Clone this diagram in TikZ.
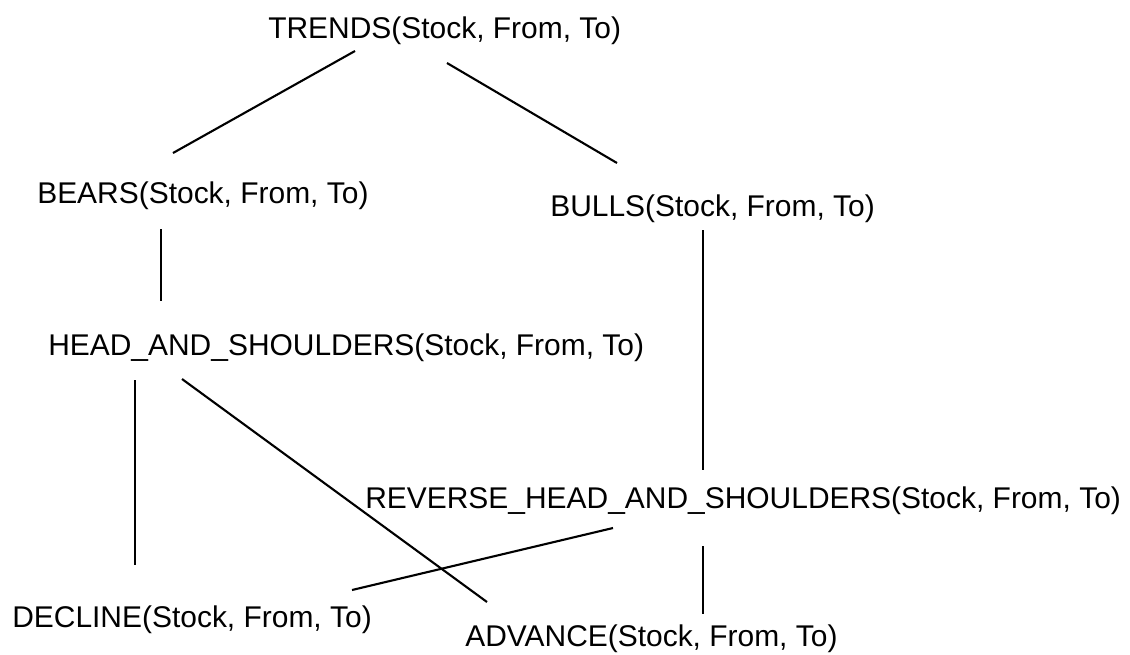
\documentclass[tikz,border=0pt]{standalone}
\usepackage{fontspec}
\setmainfont{Liberation Sans}
\usetikzlibrary{calc}

\begin{document}
\begin{tikzpicture}[x=0.025cm, y=-0.025cm,
		pred/.style={anchor=base west, inner sep=0pt, font=\fontsize{21.3}{24}\selectfont},
		link/.style={line width=1.5pt}]
	\useasboundingbox (0, 0) rectangle (1130, 654);

	% predicates
	\node[pred] at (268, 38) (trends) {TRENDS(Stock, From, To)};
	\node[pred] at (37, 203) (bears) {BEARS(Stock, From, To)};
	\node[pred] at (550, 216) (bulls) {BULLS(Stock, From, To)};
	\node[pred] at (48, 355) (head) {HEAD\_AND\_SHOULDERS(Stock, From, To)};
	\node[pred] at (365, 508) (revhead) {REVERSE\_HEAD\_AND\_SHOULDERS(Stock, From, To)};
	\node[pred] at (12, 627) (decline) {DECLINE(Stock, From, To)};
	\node[pred] at (465, 646) (advance) {ADVANCE(Stock, From, To)};

	% free ends of the links
	\coordinate (trendsL) at (355, 51);
	\coordinate (trendsR) at (447, 63);
	\coordinate (bearsT) at (173, 153);
	\coordinate (bullsT) at (617, 163);
	\coordinate (bearsB) at (161, 229);
	\coordinate (bullsB) at (703, 230);
	\coordinate (headT) at (161, 301);
	\coordinate (headL) at (135, 380);
	\coordinate (headR) at (182, 379);
	\coordinate (revheadT) at (703, 470);
	\coordinate (revheadL) at (613, 528);
	\coordinate (revheadB) at (703, 546);
	\coordinate (declineT) at (135, 565);
	\coordinate (declineR) at (352, 590);
	\coordinate (advanceT) at (487, 602);
	\coordinate (advanceB) at (703, 614);

	\draw[link] (trendsL) -- (bearsT);
	\draw[link] (trendsR) -- (bullsT);
	\draw[link] (bearsB) -- (headT);
	\draw[link] (bullsB) -- (revheadT);
	\draw[link] (headL) -- (declineT);
	\draw[link] (headR) -- (advanceT);
	\draw[link] (revheadL) -- (declineR);
	\draw[link] (revheadB) -- (advanceB);
\end{tikzpicture}
\end{document}
